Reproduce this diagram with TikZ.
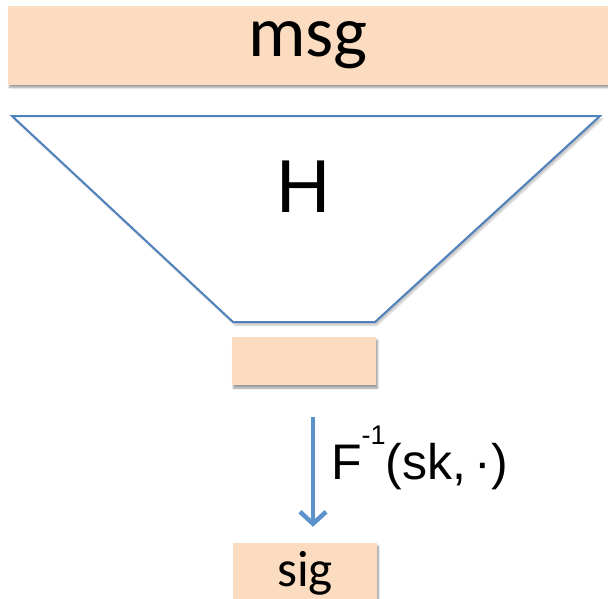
\documentclass[tikz,border=0pt]{standalone}
\usepackage{fontspec}
\setmainfont{Carlito}
\newfontfamily\arialf{Liberation Sans}
\usetikzlibrary{shadows.blur,arrows.meta}
\definecolor{peach}{RGB}{251,220,192}
\definecolor{steel}{RGB}{79,129,189}
\definecolor{arrowblue}{RGB}{91,146,204}
\tikzset{
  box/.style={fill=peach, draw=none, inner sep=0pt, text=black,
    blur shadow={shadow xshift=1.5pt, shadow yshift=-3pt, shadow blur steps=6, shadow opacity=40}},
  funnel/.style={draw=steel, line width=2pt, fill=white, line join=miter,
    blur shadow={shadow xshift=2pt, shadow yshift=-3pt, shadow blur steps=6, shadow opacity=25}},
  flow/.style={draw=arrowblue, line width=4.5pt, -{Straight Barb[length=12pt,width=26pt,line width=4.5pt]}},
}
\begin{document}
\begin{tikzpicture}[x=1pt,y=-1pt]
\useasboundingbox (0,0) rectangle (608,598);
\node[box, minimum width=600pt, minimum height=79pt] (msg) at (308,45) {\fontsize{72}{72}\selectfont msg};
\coordinate (tl) at (12,116);
\coordinate (tr) at (600,116);
\coordinate (br) at (375,322);
\coordinate (bl) at (233,322);
\draw[funnel] (tl) -- (tr) -- (br) -- (bl) -- cycle;
\node (H) at (304,187) {\arialf\fontsize{75}{75}\selectfont H};
\node[box, minimum width=144pt, minimum height=48pt] (small) at (304,361) {};
\node[box, minimum width=144pt, minimum height=60pt] (sig) at (305,573) {\fontsize{51}{51}\selectfont sig};
\draw[flow] ([xshift=9pt,yshift=-32pt]small.south) -- ([xshift=8pt,yshift=16pt]sig.north);
\node[anchor=base west, inner sep=0pt] (lab) at (331,479) {\arialf\fontsize{50}{50}\selectfont F\raisebox{35pt}{\fontsize{27}{27}\selectfont -1}(sk,\,·)};
\end{tikzpicture}
\end{document}
